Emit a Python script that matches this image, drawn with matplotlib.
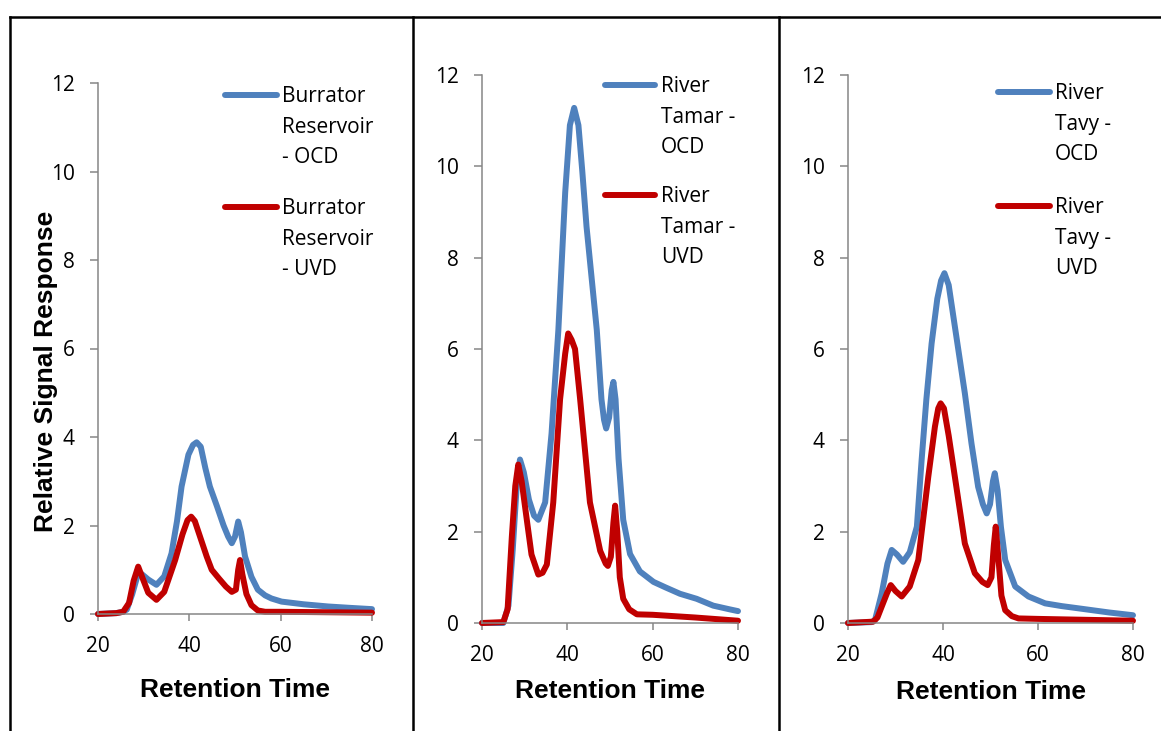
import matplotlib
matplotlib.use("Agg")
import matplotlib.pyplot as plt
from matplotlib.lines import Line2D

# retention time / signal pairs
burrator_ocd_t = [20, 24, 25.5, 26.3, 27.5, 28.6, 29.6, 31, 32.8, 34.5, 36.1, 37.3, 38.3, 39.8, 40.8, 41.6, 42.5, 43.5, 44.5, 46, 47.5, 48.5, 49.3, 50, 50.7, 51.3, 52.2, 53.6, 55, 56.6, 58, 60.2, 65, 70.4, 75, 80]
burrator_ocd_v = [0, 0.02, 0.05, 0.1, 0.45, 0.85, 0.9, 0.78, 0.66, 0.85, 1.37, 2.1, 2.88, 3.6, 3.82, 3.88, 3.78, 3.3, 2.88, 2.45, 2.0, 1.75, 1.6, 1.75, 2.09, 1.85, 1.3, 0.84, 0.55, 0.42, 0.35, 0.28, 0.22, 0.17, 0.14, 0.11]
burrator_uvd_t = [20, 24, 25.5, 26.8, 27.8, 28.8, 29.8, 31, 32.8, 34.5, 36.9, 38.5, 39.6, 40.4, 41.2, 42.5, 43.8, 44.9, 46.5, 48, 49.3, 50.2, 50.7, 51.1, 51.6, 52.5, 53.6, 55, 56.6, 60, 70, 80]
burrator_uvd_v = [0, 0.02, 0.05, 0.25, 0.75, 1.07, 0.8, 0.48, 0.32, 0.5, 1.22, 1.8, 2.12, 2.2, 2.1, 1.7, 1.3, 1.0, 0.8, 0.62, 0.5, 0.55, 1.0, 1.22, 0.9, 0.45, 0.2, 0.08, 0.05, 0.05, 0.04, 0.03]

tamar_ocd_t = [20, 25, 26.2, 27.2, 28.2, 28.9, 29.8, 31, 32.2, 33.2, 34.8, 36.3, 37.9, 39.5, 40.6, 41.6, 42.6, 43.5, 44.5, 46.9, 48.0, 48.6, 49.1, 49.8, 50.4, 50.8, 51.3, 52, 53.1, 54.7, 57.0, 60.2, 63, 66.4, 70.3, 74.2, 78, 80]
tamar_ocd_v = [0, 0, 0.38, 1.6, 3.1, 3.58, 3.3, 2.7, 2.35, 2.26, 2.64, 4.15, 6.42, 9.43, 10.9, 11.28, 10.9, 9.9, 8.68, 6.42, 4.9, 4.45, 4.26, 4.5, 5.1, 5.28, 4.9, 3.6, 2.26, 1.51, 1.13, 0.9, 0.78, 0.64, 0.53, 0.38, 0.3, 0.26]
tamar_uvd_t = [20, 25, 26, 27.0, 27.8, 28.5, 29.3, 30.5, 31.6, 33.2, 34.2, 35.2, 36.7, 38.3, 39.5, 40.2, 41.0, 41.8, 43.0, 45.3, 47.7, 49.0, 49.5, 50.2, 50.8, 51.2, 51.7, 52.3, 53.1, 54.5, 56.3, 60, 70, 80]
tamar_uvd_v = [0, 0.02, 0.3, 1.9, 3.0, 3.47, 3.1, 2.26, 1.5, 1.06, 1.1, 1.28, 2.64, 4.9, 5.9, 6.34, 6.2, 6.0, 4.9, 2.64, 1.58, 1.3, 1.25, 1.45, 2.2, 2.57, 2.0, 1.0, 0.53, 0.3, 0.19, 0.18, 0.12, 0.05]

tavy_ocd_t = [20, 25, 25.7, 27.1, 28.3, 29.2, 30.3, 31.6, 33, 34.5, 35.5, 36.5, 37.6, 38.8, 39.6, 40.3, 41.2, 42.5, 44.6, 46.0, 47.4, 48.4, 49.2, 49.9, 50.5, 50.9, 51.5, 52.2, 53.1, 55.2, 58.0, 61.5, 65, 68.6, 75, 80]
tavy_ocd_v = [0, 0.02, 0.07, 0.65, 1.3, 1.6, 1.5, 1.34, 1.55, 2.11, 3.57, 4.9, 6.12, 7.1, 7.5, 7.66, 7.4, 6.49, 5.03, 3.93, 2.98, 2.6, 2.4, 2.6, 3.1, 3.28, 2.9, 2.1, 1.38, 0.8, 0.58, 0.43, 0.37, 0.32, 0.23, 0.17]
tavy_uvd_t = [20, 25.3, 26.2, 27.1, 28.2, 29.0, 30.0, 31.3, 33, 34.8, 36.9, 38.3, 39.0, 39.5, 40.2, 41.2, 42.5, 44.6, 46.7, 48.3, 49.4, 50.2, 50.7, 51.1, 51.6, 52.3, 53.1, 54.5, 55.9, 60, 70, 80]
tavy_uvd_v = [0, 0.03, 0.12, 0.36, 0.65, 0.83, 0.7, 0.58, 0.8, 1.38, 3.2, 4.3, 4.7, 4.81, 4.7, 4.1, 3.2, 1.74, 1.09, 0.9, 0.83, 1.0, 1.7, 2.11, 1.5, 0.6, 0.28, 0.15, 0.1, 0.09, 0.07, 0.05]

labels = [
    ("Burrator\nReservoir\n- OCD", "Burrator\nReservoir\n- UVD"),
    ("River\nTamar -\nOCD", "River\nTamar -\nUVD"),
    ("River\nTavy -\nOCD", "River\nTavy -\nUVD"),
]
series = [
    (burrator_ocd_t, burrator_ocd_v, burrator_uvd_t, burrator_uvd_v),
    (tamar_ocd_t, tamar_ocd_v, tamar_uvd_t, tamar_uvd_v),
    (tavy_ocd_t, tavy_ocd_v, tavy_uvd_t, tavy_uvd_v),
]

BLUE = "#4F81BD"
RED = "#C00000"
GRAY = "#868686"
W, H = 1161, 731
tick_font = "Open Sans"
bold_font = "Liberation Sans"
LW = 4.3

# axes boxes in pixels: left, right, top, bottom
boxes = [(98, 372, 83, 614), (482, 738, 75, 623), (848, 1133, 75, 623)]
# legend anchors: handle x0, x1, text x, first-line y (blue), first-line y (red)
legends = [(225, 277, 282, 95, 207), (605, 655, 661, 85, 195), (998, 1050, 1055, 92, 206)]
# distance from x axis to top of the x label, pixels
xlabel_gap = [64, 56, 57]

fig = plt.figure(figsize=(W / 100, H / 100), dpi=100)

for i, ((l, r, t, b), (ot, ov, ut, uv)) in enumerate(zip(boxes, series)):
    ax = fig.add_axes([l / W, 1 - b / H, (r - l) / W, (b - t) / H])
    ax.plot(ot, ov, color=BLUE, lw=LW, solid_joinstyle="round", solid_capstyle="round", clip_on=False)
    ax.plot(ut, uv, color=RED, lw=LW, solid_joinstyle="round", solid_capstyle="round", clip_on=False)
    ax.set_xlim(20, 80)
    ax.set_ylim(0, 12)
    ax.set_xticks([20, 40, 60, 80])
    ax.set_yticks([0, 2, 4, 6, 8, 10, 12])
    for s in ["top", "right"]:
        ax.spines[s].set_visible(False)
    for s in ["left", "bottom"]:
        ax.spines[s].set_color(GRAY)
        ax.spines[s].set_linewidth(1.1)
    ax.tick_params(axis="y", direction="out", length=5.8, width=1.1, color=GRAY, pad=11)
    ax.tick_params(axis="x", direction="out", length=5, width=1.1, color=GRAY, pad=11)
    for lab in ax.get_xticklabels() + ax.get_yticklabels():
        lab.set_fontfamily(tick_font)
        lab.set_fontsize(15)
    ax.set_xlabel("Retention Time", fontsize=19, fontweight="bold", family=bold_font)
    ax.xaxis.set_label_coords(0.5, -xlabel_gap[i] / (b - t))
    if i == 0:
        ax.set_ylabel("Relative Signal Response", fontsize=19, fontweight="bold", family=bold_font)
        ax.yaxis.set_label_coords(-40 / (r - l), (b - 371) / (b - t))

    # legend, drawn by hand to put the key beside the first text line
    hx0, hx1, tx, yb, yr = legends[i]
    for y, col, txt in [(yb, BLUE, labels[i][0]), (yr, RED, labels[i][1])]:
        fig.add_artist(Line2D([hx0 / W, hx1 / W], [1 - y / H, 1 - y / H], color=col, lw=LW,
                              solid_capstyle="round"))
        fig.text(tx / W, 1 - (y - 9) / H, txt, family=tick_font, fontsize=15,
                 va="top", ha="left", linespacing=1.6)

# table borders around the three panels
border = dict(color="black", lw=1.8)
fig.add_artist(Line2D([10 / W, 1.0], [1 - 17 / H, 1 - 17 / H], **border))
for x in [10, 413, 779]:
    fig.add_artist(Line2D([x / W, x / W], [1 - 17 / H, 0], **border))

fig.savefig("out.png", dpi=100)
